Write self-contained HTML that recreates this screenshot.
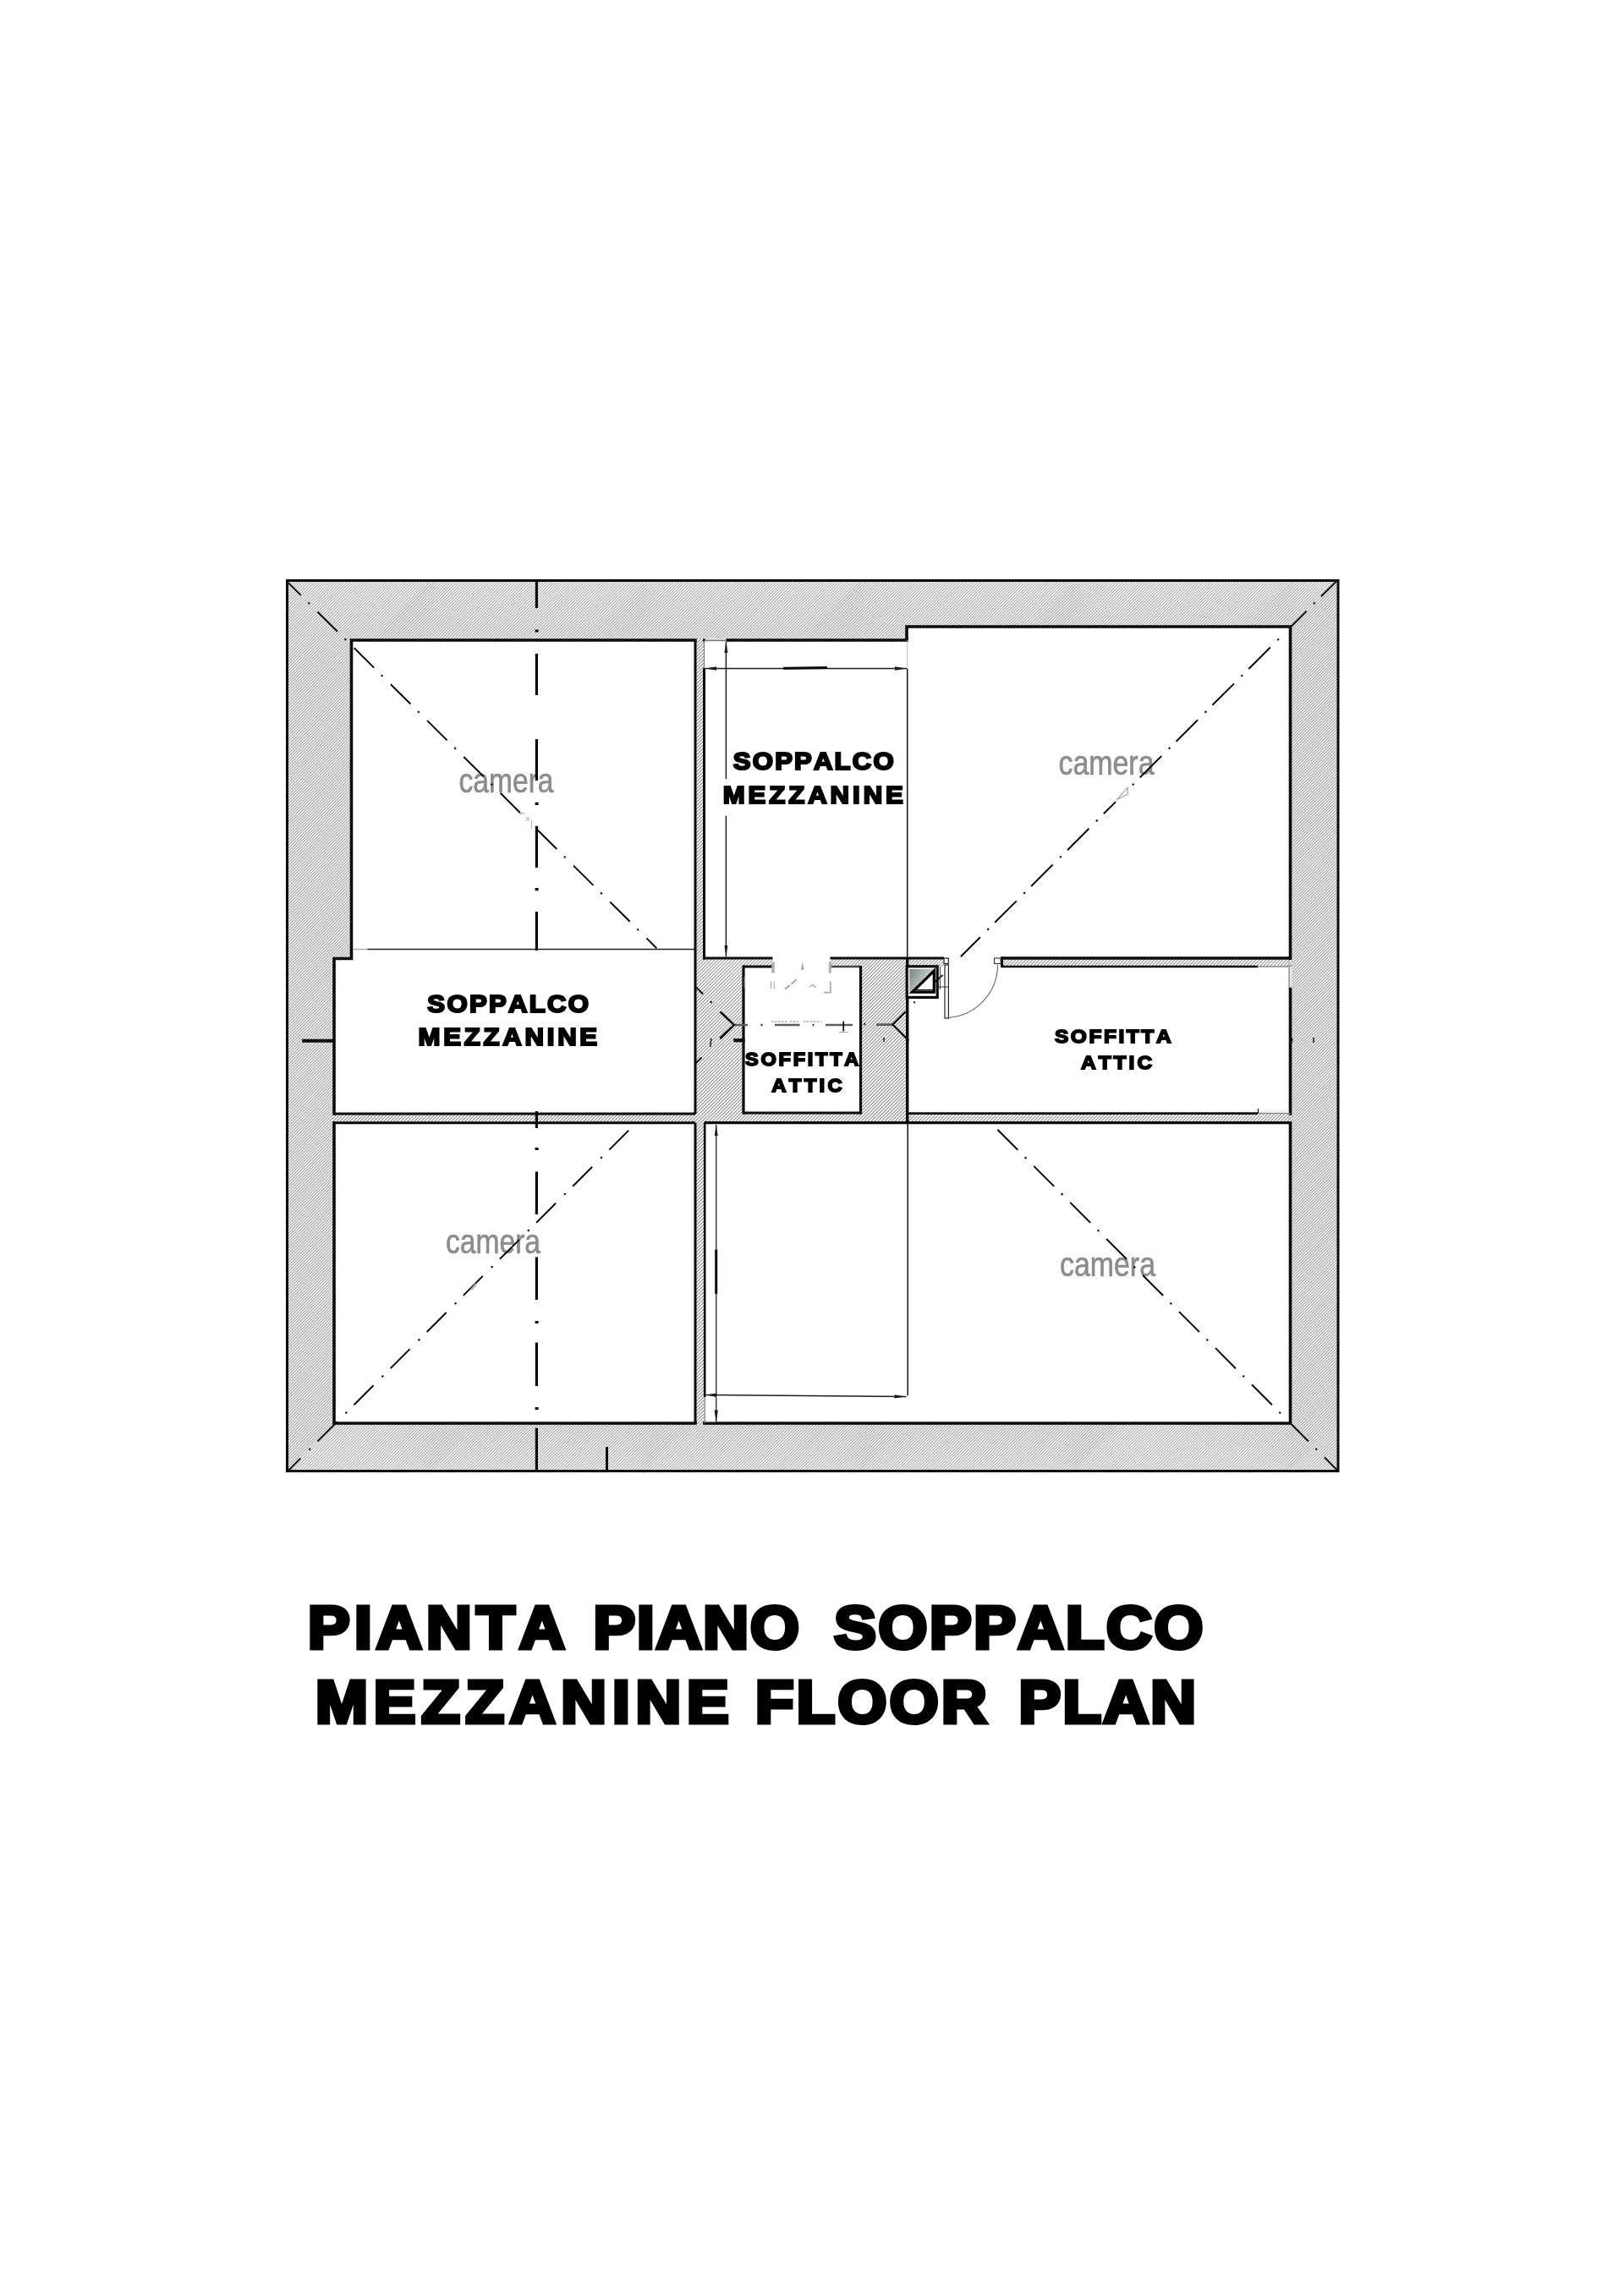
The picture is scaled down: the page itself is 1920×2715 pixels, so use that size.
<!DOCTYPE html>
<html><head><meta charset="utf-8"><title>Pianta piano soppalco</title>
<style>
html,body{margin:0;padding:0;background:#fff;}
body{width:1920px;height:2715px;overflow:hidden;font-family:"Liberation Sans",sans-serif;}
svg{display:block;}
text{font-family:"Liberation Sans",sans-serif;font-kerning:none;font-variant-ligatures:none;}
.blk{opacity:.999;font-weight:bold;fill:#000;stroke:#000;stroke-linejoin:miter;paint-order:stroke;}
.cam{opacity:.999;fill:#8c8c8c;stroke:#8c8c8c;stroke-width:0.7;}
</style></head><body>
<svg width="1920" height="2715" viewBox="0 0 1920 2715">
<defs>
<filter id="gs" x="-5%" y="-5%" width="110%" height="110%" color-interpolation-filters="sRGB"><feColorMatrix type="saturate" values="0"/></filter>
<linearGradient id="bx" x1="0" y1="0" x2="1" y2="0.6">
<stop offset="0" stop-color="#77827e"/><stop offset="0.6" stop-color="#b9c4c0"/><stop offset="1" stop-color="#d5dcd9"/>
</linearGradient>
</defs>
<rect width="1920" height="2715" fill="#fff"/>

<clipPath id="c1"><path d="M339.5 686.5h1242.5v1053.0h-1242.5zM415.5 757.0L1072.0 757.0L1072.0 741.0L1525.5 741.0L1525.5 1683.0L395.0 1683.0L395.0 1133.5L415.5 1133.5z" clip-rule="evenodd"/></clipPath>
<g clip-path="url(#c1)"><path d="M339.5 686.5h1242.5v1053.0h-1242.5zM415.5 757.0L1072.0 757.0L1072.0 741.0L1525.5 741.0L1525.5 1683.0L395.0 1683.0L395.0 1133.5L415.5 1133.5z" fill="#fbfbfb" fill-rule="evenodd"/>
<path d="M-710.50 1739.5l1053.0 -1053.0M-707.00 1739.5l1053.0 -1053.0M-703.50 1739.5l1053.0 -1053.0M-700.00 1739.5l1053.0 -1053.0M-696.50 1739.5l1053.0 -1053.0M-693.00 1739.5l1053.0 -1053.0M-689.50 1739.5l1053.0 -1053.0M-686.00 1739.5l1053.0 -1053.0M-682.50 1739.5l1053.0 -1053.0M-679.00 1739.5l1053.0 -1053.0M-675.50 1739.5l1053.0 -1053.0M-672.00 1739.5l1053.0 -1053.0M-668.50 1739.5l1053.0 -1053.0M-665.00 1739.5l1053.0 -1053.0M-661.50 1739.5l1053.0 -1053.0M-658.00 1739.5l1053.0 -1053.0M-654.50 1739.5l1053.0 -1053.0M-651.00 1739.5l1053.0 -1053.0M-647.50 1739.5l1053.0 -1053.0M-644.00 1739.5l1053.0 -1053.0M-640.50 1739.5l1053.0 -1053.0M-637.00 1739.5l1053.0 -1053.0M-633.50 1739.5l1053.0 -1053.0M-630.00 1739.5l1053.0 -1053.0M-626.50 1739.5l1053.0 -1053.0M-623.00 1739.5l1053.0 -1053.0M-619.50 1739.5l1053.0 -1053.0M-616.00 1739.5l1053.0 -1053.0M-612.50 1739.5l1053.0 -1053.0M-609.00 1739.5l1053.0 -1053.0M-605.50 1739.5l1053.0 -1053.0M-602.00 1739.5l1053.0 -1053.0M-598.50 1739.5l1053.0 -1053.0M-595.00 1739.5l1053.0 -1053.0M-591.50 1739.5l1053.0 -1053.0M-588.00 1739.5l1053.0 -1053.0M-584.50 1739.5l1053.0 -1053.0M-581.00 1739.5l1053.0 -1053.0M-577.50 1739.5l1053.0 -1053.0M-574.00 1739.5l1053.0 -1053.0M-570.50 1739.5l1053.0 -1053.0M-567.00 1739.5l1053.0 -1053.0M-563.50 1739.5l1053.0 -1053.0M-560.00 1739.5l1053.0 -1053.0M-556.50 1739.5l1053.0 -1053.0M-553.00 1739.5l1053.0 -1053.0M-549.50 1739.5l1053.0 -1053.0M-546.00 1739.5l1053.0 -1053.0M-542.50 1739.5l1053.0 -1053.0M-539.00 1739.5l1053.0 -1053.0M-535.50 1739.5l1053.0 -1053.0M-532.00 1739.5l1053.0 -1053.0M-528.50 1739.5l1053.0 -1053.0M-525.00 1739.5l1053.0 -1053.0M-521.50 1739.5l1053.0 -1053.0M-518.00 1739.5l1053.0 -1053.0M-514.50 1739.5l1053.0 -1053.0M-511.00 1739.5l1053.0 -1053.0M-507.50 1739.5l1053.0 -1053.0M-504.00 1739.5l1053.0 -1053.0M-500.50 1739.5l1053.0 -1053.0M-497.00 1739.5l1053.0 -1053.0M-493.50 1739.5l1053.0 -1053.0M-490.00 1739.5l1053.0 -1053.0M-486.50 1739.5l1053.0 -1053.0M-483.00 1739.5l1053.0 -1053.0M-479.50 1739.5l1053.0 -1053.0M-476.00 1739.5l1053.0 -1053.0M-472.50 1739.5l1053.0 -1053.0M-469.00 1739.5l1053.0 -1053.0M-465.50 1739.5l1053.0 -1053.0M-462.00 1739.5l1053.0 -1053.0M-458.50 1739.5l1053.0 -1053.0M-455.00 1739.5l1053.0 -1053.0M-451.50 1739.5l1053.0 -1053.0M-448.00 1739.5l1053.0 -1053.0M-444.50 1739.5l1053.0 -1053.0M-441.00 1739.5l1053.0 -1053.0M-437.50 1739.5l1053.0 -1053.0M-434.00 1739.5l1053.0 -1053.0M-430.50 1739.5l1053.0 -1053.0M-427.00 1739.5l1053.0 -1053.0M-423.50 1739.5l1053.0 -1053.0M-420.00 1739.5l1053.0 -1053.0M-416.50 1739.5l1053.0 -1053.0M-413.00 1739.5l1053.0 -1053.0M-409.50 1739.5l1053.0 -1053.0M-406.00 1739.5l1053.0 -1053.0M-402.50 1739.5l1053.0 -1053.0M-399.00 1739.5l1053.0 -1053.0M-395.50 1739.5l1053.0 -1053.0M-392.00 1739.5l1053.0 -1053.0M-388.50 1739.5l1053.0 -1053.0M-385.00 1739.5l1053.0 -1053.0M-381.50 1739.5l1053.0 -1053.0M-378.00 1739.5l1053.0 -1053.0M-374.50 1739.5l1053.0 -1053.0M-371.00 1739.5l1053.0 -1053.0M-367.50 1739.5l1053.0 -1053.0M-364.00 1739.5l1053.0 -1053.0M-360.50 1739.5l1053.0 -1053.0M-357.00 1739.5l1053.0 -1053.0M-353.50 1739.5l1053.0 -1053.0M-350.00 1739.5l1053.0 -1053.0M-346.50 1739.5l1053.0 -1053.0M-343.00 1739.5l1053.0 -1053.0M-339.50 1739.5l1053.0 -1053.0M-336.00 1739.5l1053.0 -1053.0M-332.50 1739.5l1053.0 -1053.0M-329.00 1739.5l1053.0 -1053.0M-325.50 1739.5l1053.0 -1053.0M-322.00 1739.5l1053.0 -1053.0M-318.50 1739.5l1053.0 -1053.0M-315.00 1739.5l1053.0 -1053.0M-311.50 1739.5l1053.0 -1053.0M-308.00 1739.5l1053.0 -1053.0M-304.50 1739.5l1053.0 -1053.0M-301.00 1739.5l1053.0 -1053.0M-297.50 1739.5l1053.0 -1053.0M-294.00 1739.5l1053.0 -1053.0M-290.50 1739.5l1053.0 -1053.0M-287.00 1739.5l1053.0 -1053.0M-283.50 1739.5l1053.0 -1053.0M-280.00 1739.5l1053.0 -1053.0M-276.50 1739.5l1053.0 -1053.0M-273.00 1739.5l1053.0 -1053.0M-269.50 1739.5l1053.0 -1053.0M-266.00 1739.5l1053.0 -1053.0M-262.50 1739.5l1053.0 -1053.0M-259.00 1739.5l1053.0 -1053.0M-255.50 1739.5l1053.0 -1053.0M-252.00 1739.5l1053.0 -1053.0M-248.50 1739.5l1053.0 -1053.0M-245.00 1739.5l1053.0 -1053.0M-241.50 1739.5l1053.0 -1053.0M-238.00 1739.5l1053.0 -1053.0M-234.50 1739.5l1053.0 -1053.0M-231.00 1739.5l1053.0 -1053.0M-227.50 1739.5l1053.0 -1053.0M-224.00 1739.5l1053.0 -1053.0M-220.50 1739.5l1053.0 -1053.0M-217.00 1739.5l1053.0 -1053.0M-213.50 1739.5l1053.0 -1053.0M-210.00 1739.5l1053.0 -1053.0M-206.50 1739.5l1053.0 -1053.0M-203.00 1739.5l1053.0 -1053.0M-199.50 1739.5l1053.0 -1053.0M-196.00 1739.5l1053.0 -1053.0M-192.50 1739.5l1053.0 -1053.0M-189.00 1739.5l1053.0 -1053.0M-185.50 1739.5l1053.0 -1053.0M-182.00 1739.5l1053.0 -1053.0M-178.50 1739.5l1053.0 -1053.0M-175.00 1739.5l1053.0 -1053.0M-171.50 1739.5l1053.0 -1053.0M-168.00 1739.5l1053.0 -1053.0M-164.50 1739.5l1053.0 -1053.0M-161.00 1739.5l1053.0 -1053.0M-157.50 1739.5l1053.0 -1053.0M-154.00 1739.5l1053.0 -1053.0M-150.50 1739.5l1053.0 -1053.0M-147.00 1739.5l1053.0 -1053.0M-143.50 1739.5l1053.0 -1053.0M-140.00 1739.5l1053.0 -1053.0M-136.50 1739.5l1053.0 -1053.0M-133.00 1739.5l1053.0 -1053.0M-129.50 1739.5l1053.0 -1053.0M-126.00 1739.5l1053.0 -1053.0M-122.50 1739.5l1053.0 -1053.0M-119.00 1739.5l1053.0 -1053.0M-115.50 1739.5l1053.0 -1053.0M-112.00 1739.5l1053.0 -1053.0M-108.50 1739.5l1053.0 -1053.0M-105.00 1739.5l1053.0 -1053.0M-101.50 1739.5l1053.0 -1053.0M-98.00 1739.5l1053.0 -1053.0M-94.50 1739.5l1053.0 -1053.0M-91.00 1739.5l1053.0 -1053.0M-87.50 1739.5l1053.0 -1053.0M-84.00 1739.5l1053.0 -1053.0M-80.50 1739.5l1053.0 -1053.0M-77.00 1739.5l1053.0 -1053.0M-73.50 1739.5l1053.0 -1053.0M-70.00 1739.5l1053.0 -1053.0M-66.50 1739.5l1053.0 -1053.0M-63.00 1739.5l1053.0 -1053.0M-59.50 1739.5l1053.0 -1053.0M-56.00 1739.5l1053.0 -1053.0M-52.50 1739.5l1053.0 -1053.0M-49.00 1739.5l1053.0 -1053.0M-45.50 1739.5l1053.0 -1053.0M-42.00 1739.5l1053.0 -1053.0M-38.50 1739.5l1053.0 -1053.0M-35.00 1739.5l1053.0 -1053.0M-31.50 1739.5l1053.0 -1053.0M-28.00 1739.5l1053.0 -1053.0M-24.50 1739.5l1053.0 -1053.0M-21.00 1739.5l1053.0 -1053.0M-17.50 1739.5l1053.0 -1053.0M-14.00 1739.5l1053.0 -1053.0M-10.50 1739.5l1053.0 -1053.0M-7.00 1739.5l1053.0 -1053.0M-3.50 1739.5l1053.0 -1053.0M0.00 1739.5l1053.0 -1053.0M3.50 1739.5l1053.0 -1053.0M7.00 1739.5l1053.0 -1053.0M10.50 1739.5l1053.0 -1053.0M14.00 1739.5l1053.0 -1053.0M17.50 1739.5l1053.0 -1053.0M21.00 1739.5l1053.0 -1053.0M24.50 1739.5l1053.0 -1053.0M28.00 1739.5l1053.0 -1053.0M31.50 1739.5l1053.0 -1053.0M35.00 1739.5l1053.0 -1053.0M38.50 1739.5l1053.0 -1053.0M42.00 1739.5l1053.0 -1053.0M45.50 1739.5l1053.0 -1053.0M49.00 1739.5l1053.0 -1053.0M52.50 1739.5l1053.0 -1053.0M56.00 1739.5l1053.0 -1053.0M59.50 1739.5l1053.0 -1053.0M63.00 1739.5l1053.0 -1053.0M66.50 1739.5l1053.0 -1053.0M70.00 1739.5l1053.0 -1053.0M73.50 1739.5l1053.0 -1053.0M77.00 1739.5l1053.0 -1053.0M80.50 1739.5l1053.0 -1053.0M84.00 1739.5l1053.0 -1053.0M87.50 1739.5l1053.0 -1053.0M91.00 1739.5l1053.0 -1053.0M94.50 1739.5l1053.0 -1053.0M98.00 1739.5l1053.0 -1053.0M101.50 1739.5l1053.0 -1053.0M105.00 1739.5l1053.0 -1053.0M108.50 1739.5l1053.0 -1053.0M112.00 1739.5l1053.0 -1053.0M115.50 1739.5l1053.0 -1053.0M119.00 1739.5l1053.0 -1053.0M122.50 1739.5l1053.0 -1053.0M126.00 1739.5l1053.0 -1053.0M129.50 1739.5l1053.0 -1053.0M133.00 1739.5l1053.0 -1053.0M136.50 1739.5l1053.0 -1053.0M140.00 1739.5l1053.0 -1053.0M143.50 1739.5l1053.0 -1053.0M147.00 1739.5l1053.0 -1053.0M150.50 1739.5l1053.0 -1053.0M154.00 1739.5l1053.0 -1053.0M157.50 1739.5l1053.0 -1053.0M161.00 1739.5l1053.0 -1053.0M164.50 1739.5l1053.0 -1053.0M168.00 1739.5l1053.0 -1053.0M171.50 1739.5l1053.0 -1053.0M175.00 1739.5l1053.0 -1053.0M178.50 1739.5l1053.0 -1053.0M182.00 1739.5l1053.0 -1053.0M185.50 1739.5l1053.0 -1053.0M189.00 1739.5l1053.0 -1053.0M192.50 1739.5l1053.0 -1053.0M196.00 1739.5l1053.0 -1053.0M199.50 1739.5l1053.0 -1053.0M203.00 1739.5l1053.0 -1053.0M206.50 1739.5l1053.0 -1053.0M210.00 1739.5l1053.0 -1053.0M213.50 1739.5l1053.0 -1053.0M217.00 1739.5l1053.0 -1053.0M220.50 1739.5l1053.0 -1053.0M224.00 1739.5l1053.0 -1053.0M227.50 1739.5l1053.0 -1053.0M231.00 1739.5l1053.0 -1053.0M234.50 1739.5l1053.0 -1053.0M238.00 1739.5l1053.0 -1053.0M241.50 1739.5l1053.0 -1053.0M245.00 1739.5l1053.0 -1053.0M248.50 1739.5l1053.0 -1053.0M252.00 1739.5l1053.0 -1053.0M255.50 1739.5l1053.0 -1053.0M259.00 1739.5l1053.0 -1053.0M262.50 1739.5l1053.0 -1053.0M266.00 1739.5l1053.0 -1053.0M269.50 1739.5l1053.0 -1053.0M273.00 1739.5l1053.0 -1053.0M276.50 1739.5l1053.0 -1053.0M280.00 1739.5l1053.0 -1053.0M283.50 1739.5l1053.0 -1053.0M287.00 1739.5l1053.0 -1053.0M290.50 1739.5l1053.0 -1053.0M294.00 1739.5l1053.0 -1053.0M297.50 1739.5l1053.0 -1053.0M301.00 1739.5l1053.0 -1053.0M304.50 1739.5l1053.0 -1053.0M308.00 1739.5l1053.0 -1053.0M311.50 1739.5l1053.0 -1053.0M315.00 1739.5l1053.0 -1053.0M318.50 1739.5l1053.0 -1053.0M322.00 1739.5l1053.0 -1053.0M325.50 1739.5l1053.0 -1053.0M329.00 1739.5l1053.0 -1053.0M332.50 1739.5l1053.0 -1053.0M336.00 1739.5l1053.0 -1053.0M339.50 1739.5l1053.0 -1053.0M343.00 1739.5l1053.0 -1053.0M346.50 1739.5l1053.0 -1053.0M350.00 1739.5l1053.0 -1053.0M353.50 1739.5l1053.0 -1053.0M357.00 1739.5l1053.0 -1053.0M360.50 1739.5l1053.0 -1053.0M364.00 1739.5l1053.0 -1053.0M367.50 1739.5l1053.0 -1053.0M371.00 1739.5l1053.0 -1053.0M374.50 1739.5l1053.0 -1053.0M378.00 1739.5l1053.0 -1053.0M381.50 1739.5l1053.0 -1053.0M385.00 1739.5l1053.0 -1053.0M388.50 1739.5l1053.0 -1053.0M392.00 1739.5l1053.0 -1053.0M395.50 1739.5l1053.0 -1053.0M399.00 1739.5l1053.0 -1053.0M402.50 1739.5l1053.0 -1053.0M406.00 1739.5l1053.0 -1053.0M409.50 1739.5l1053.0 -1053.0M413.00 1739.5l1053.0 -1053.0M416.50 1739.5l1053.0 -1053.0M420.00 1739.5l1053.0 -1053.0M423.50 1739.5l1053.0 -1053.0M427.00 1739.5l1053.0 -1053.0M430.50 1739.5l1053.0 -1053.0M434.00 1739.5l1053.0 -1053.0M437.50 1739.5l1053.0 -1053.0M441.00 1739.5l1053.0 -1053.0M444.50 1739.5l1053.0 -1053.0M448.00 1739.5l1053.0 -1053.0M451.50 1739.5l1053.0 -1053.0M455.00 1739.5l1053.0 -1053.0M458.50 1739.5l1053.0 -1053.0M462.00 1739.5l1053.0 -1053.0M465.50 1739.5l1053.0 -1053.0M469.00 1739.5l1053.0 -1053.0M472.50 1739.5l1053.0 -1053.0M476.00 1739.5l1053.0 -1053.0M479.50 1739.5l1053.0 -1053.0M483.00 1739.5l1053.0 -1053.0M486.50 1739.5l1053.0 -1053.0M490.00 1739.5l1053.0 -1053.0M493.50 1739.5l1053.0 -1053.0M497.00 1739.5l1053.0 -1053.0M500.50 1739.5l1053.0 -1053.0M504.00 1739.5l1053.0 -1053.0M507.50 1739.5l1053.0 -1053.0M511.00 1739.5l1053.0 -1053.0M514.50 1739.5l1053.0 -1053.0M518.00 1739.5l1053.0 -1053.0M521.50 1739.5l1053.0 -1053.0M525.00 1739.5l1053.0 -1053.0M528.50 1739.5l1053.0 -1053.0M532.00 1739.5l1053.0 -1053.0M535.50 1739.5l1053.0 -1053.0M539.00 1739.5l1053.0 -1053.0M542.50 1739.5l1053.0 -1053.0M546.00 1739.5l1053.0 -1053.0M549.50 1739.5l1053.0 -1053.0M553.00 1739.5l1053.0 -1053.0M556.50 1739.5l1053.0 -1053.0M560.00 1739.5l1053.0 -1053.0M563.50 1739.5l1053.0 -1053.0M567.00 1739.5l1053.0 -1053.0M570.50 1739.5l1053.0 -1053.0M574.00 1739.5l1053.0 -1053.0M577.50 1739.5l1053.0 -1053.0M581.00 1739.5l1053.0 -1053.0M584.50 1739.5l1053.0 -1053.0M588.00 1739.5l1053.0 -1053.0M591.50 1739.5l1053.0 -1053.0M595.00 1739.5l1053.0 -1053.0M598.50 1739.5l1053.0 -1053.0M602.00 1739.5l1053.0 -1053.0M605.50 1739.5l1053.0 -1053.0M609.00 1739.5l1053.0 -1053.0M612.50 1739.5l1053.0 -1053.0M616.00 1739.5l1053.0 -1053.0M619.50 1739.5l1053.0 -1053.0M623.00 1739.5l1053.0 -1053.0M626.50 1739.5l1053.0 -1053.0M630.00 1739.5l1053.0 -1053.0M633.50 1739.5l1053.0 -1053.0M637.00 1739.5l1053.0 -1053.0M640.50 1739.5l1053.0 -1053.0M644.00 1739.5l1053.0 -1053.0M647.50 1739.5l1053.0 -1053.0M651.00 1739.5l1053.0 -1053.0M654.50 1739.5l1053.0 -1053.0M658.00 1739.5l1053.0 -1053.0M661.50 1739.5l1053.0 -1053.0M665.00 1739.5l1053.0 -1053.0M668.50 1739.5l1053.0 -1053.0M672.00 1739.5l1053.0 -1053.0M675.50 1739.5l1053.0 -1053.0M679.00 1739.5l1053.0 -1053.0M682.50 1739.5l1053.0 -1053.0M686.00 1739.5l1053.0 -1053.0M689.50 1739.5l1053.0 -1053.0M693.00 1739.5l1053.0 -1053.0M696.50 1739.5l1053.0 -1053.0M700.00 1739.5l1053.0 -1053.0M703.50 1739.5l1053.0 -1053.0M707.00 1739.5l1053.0 -1053.0M710.50 1739.5l1053.0 -1053.0M714.00 1739.5l1053.0 -1053.0M717.50 1739.5l1053.0 -1053.0M721.00 1739.5l1053.0 -1053.0M724.50 1739.5l1053.0 -1053.0M728.00 1739.5l1053.0 -1053.0M731.50 1739.5l1053.0 -1053.0M735.00 1739.5l1053.0 -1053.0M738.50 1739.5l1053.0 -1053.0M742.00 1739.5l1053.0 -1053.0M745.50 1739.5l1053.0 -1053.0M749.00 1739.5l1053.0 -1053.0M752.50 1739.5l1053.0 -1053.0M756.00 1739.5l1053.0 -1053.0M759.50 1739.5l1053.0 -1053.0M763.00 1739.5l1053.0 -1053.0M766.50 1739.5l1053.0 -1053.0M770.00 1739.5l1053.0 -1053.0M773.50 1739.5l1053.0 -1053.0M777.00 1739.5l1053.0 -1053.0M780.50 1739.5l1053.0 -1053.0M784.00 1739.5l1053.0 -1053.0M787.50 1739.5l1053.0 -1053.0M791.00 1739.5l1053.0 -1053.0M794.50 1739.5l1053.0 -1053.0M798.00 1739.5l1053.0 -1053.0M801.50 1739.5l1053.0 -1053.0M805.00 1739.5l1053.0 -1053.0M808.50 1739.5l1053.0 -1053.0M812.00 1739.5l1053.0 -1053.0M815.50 1739.5l1053.0 -1053.0M819.00 1739.5l1053.0 -1053.0M822.50 1739.5l1053.0 -1053.0M826.00 1739.5l1053.0 -1053.0M829.50 1739.5l1053.0 -1053.0M833.00 1739.5l1053.0 -1053.0M836.50 1739.5l1053.0 -1053.0M840.00 1739.5l1053.0 -1053.0M843.50 1739.5l1053.0 -1053.0M847.00 1739.5l1053.0 -1053.0M850.50 1739.5l1053.0 -1053.0M854.00 1739.5l1053.0 -1053.0M857.50 1739.5l1053.0 -1053.0M861.00 1739.5l1053.0 -1053.0M864.50 1739.5l1053.0 -1053.0M868.00 1739.5l1053.0 -1053.0M871.50 1739.5l1053.0 -1053.0M875.00 1739.5l1053.0 -1053.0M878.50 1739.5l1053.0 -1053.0M882.00 1739.5l1053.0 -1053.0M885.50 1739.5l1053.0 -1053.0M889.00 1739.5l1053.0 -1053.0M892.50 1739.5l1053.0 -1053.0M896.00 1739.5l1053.0 -1053.0M899.50 1739.5l1053.0 -1053.0M903.00 1739.5l1053.0 -1053.0M906.50 1739.5l1053.0 -1053.0M910.00 1739.5l1053.0 -1053.0M913.50 1739.5l1053.0 -1053.0M917.00 1739.5l1053.0 -1053.0M920.50 1739.5l1053.0 -1053.0M924.00 1739.5l1053.0 -1053.0M927.50 1739.5l1053.0 -1053.0M931.00 1739.5l1053.0 -1053.0M934.50 1739.5l1053.0 -1053.0M938.00 1739.5l1053.0 -1053.0M941.50 1739.5l1053.0 -1053.0M945.00 1739.5l1053.0 -1053.0M948.50 1739.5l1053.0 -1053.0M952.00 1739.5l1053.0 -1053.0M955.50 1739.5l1053.0 -1053.0M959.00 1739.5l1053.0 -1053.0M962.50 1739.5l1053.0 -1053.0M966.00 1739.5l1053.0 -1053.0M969.50 1739.5l1053.0 -1053.0M973.00 1739.5l1053.0 -1053.0M976.50 1739.5l1053.0 -1053.0M980.00 1739.5l1053.0 -1053.0M983.50 1739.5l1053.0 -1053.0M987.00 1739.5l1053.0 -1053.0M990.50 1739.5l1053.0 -1053.0M994.00 1739.5l1053.0 -1053.0M997.50 1739.5l1053.0 -1053.0M1001.00 1739.5l1053.0 -1053.0M1004.50 1739.5l1053.0 -1053.0M1008.00 1739.5l1053.0 -1053.0M1011.50 1739.5l1053.0 -1053.0M1015.00 1739.5l1053.0 -1053.0M1018.50 1739.5l1053.0 -1053.0M1022.00 1739.5l1053.0 -1053.0M1025.50 1739.5l1053.0 -1053.0M1029.00 1739.5l1053.0 -1053.0M1032.50 1739.5l1053.0 -1053.0M1036.00 1739.5l1053.0 -1053.0M1039.50 1739.5l1053.0 -1053.0M1043.00 1739.5l1053.0 -1053.0M1046.50 1739.5l1053.0 -1053.0M1050.00 1739.5l1053.0 -1053.0M1053.50 1739.5l1053.0 -1053.0M1057.00 1739.5l1053.0 -1053.0M1060.50 1739.5l1053.0 -1053.0M1064.00 1739.5l1053.0 -1053.0M1067.50 1739.5l1053.0 -1053.0M1071.00 1739.5l1053.0 -1053.0M1074.50 1739.5l1053.0 -1053.0M1078.00 1739.5l1053.0 -1053.0M1081.50 1739.5l1053.0 -1053.0M1085.00 1739.5l1053.0 -1053.0M1088.50 1739.5l1053.0 -1053.0M1092.00 1739.5l1053.0 -1053.0M1095.50 1739.5l1053.0 -1053.0M1099.00 1739.5l1053.0 -1053.0M1102.50 1739.5l1053.0 -1053.0M1106.00 1739.5l1053.0 -1053.0M1109.50 1739.5l1053.0 -1053.0M1113.00 1739.5l1053.0 -1053.0M1116.50 1739.5l1053.0 -1053.0M1120.00 1739.5l1053.0 -1053.0M1123.50 1739.5l1053.0 -1053.0M1127.00 1739.5l1053.0 -1053.0M1130.50 1739.5l1053.0 -1053.0M1134.00 1739.5l1053.0 -1053.0M1137.50 1739.5l1053.0 -1053.0M1141.00 1739.5l1053.0 -1053.0M1144.50 1739.5l1053.0 -1053.0M1148.00 1739.5l1053.0 -1053.0M1151.50 1739.5l1053.0 -1053.0M1155.00 1739.5l1053.0 -1053.0M1158.50 1739.5l1053.0 -1053.0M1162.00 1739.5l1053.0 -1053.0M1165.50 1739.5l1053.0 -1053.0M1169.00 1739.5l1053.0 -1053.0M1172.50 1739.5l1053.0 -1053.0M1176.00 1739.5l1053.0 -1053.0M1179.50 1739.5l1053.0 -1053.0M1183.00 1739.5l1053.0 -1053.0M1186.50 1739.5l1053.0 -1053.0M1190.00 1739.5l1053.0 -1053.0M1193.50 1739.5l1053.0 -1053.0M1197.00 1739.5l1053.0 -1053.0M1200.50 1739.5l1053.0 -1053.0M1204.00 1739.5l1053.0 -1053.0M1207.50 1739.5l1053.0 -1053.0M1211.00 1739.5l1053.0 -1053.0M1214.50 1739.5l1053.0 -1053.0M1218.00 1739.5l1053.0 -1053.0M1221.50 1739.5l1053.0 -1053.0M1225.00 1739.5l1053.0 -1053.0M1228.50 1739.5l1053.0 -1053.0M1232.00 1739.5l1053.0 -1053.0M1235.50 1739.5l1053.0 -1053.0M1239.00 1739.5l1053.0 -1053.0M1242.50 1739.5l1053.0 -1053.0M1246.00 1739.5l1053.0 -1053.0M1249.50 1739.5l1053.0 -1053.0M1253.00 1739.5l1053.0 -1053.0M1256.50 1739.5l1053.0 -1053.0M1260.00 1739.5l1053.0 -1053.0M1263.50 1739.5l1053.0 -1053.0M1267.00 1739.5l1053.0 -1053.0M1270.50 1739.5l1053.0 -1053.0M1274.00 1739.5l1053.0 -1053.0M1277.50 1739.5l1053.0 -1053.0M1281.00 1739.5l1053.0 -1053.0M1284.50 1739.5l1053.0 -1053.0M1288.00 1739.5l1053.0 -1053.0M1291.50 1739.5l1053.0 -1053.0M1295.00 1739.5l1053.0 -1053.0M1298.50 1739.5l1053.0 -1053.0M1302.00 1739.5l1053.0 -1053.0M1305.50 1739.5l1053.0 -1053.0M1309.00 1739.5l1053.0 -1053.0M1312.50 1739.5l1053.0 -1053.0M1316.00 1739.5l1053.0 -1053.0M1319.50 1739.5l1053.0 -1053.0M1323.00 1739.5l1053.0 -1053.0M1326.50 1739.5l1053.0 -1053.0M1330.00 1739.5l1053.0 -1053.0M1333.50 1739.5l1053.0 -1053.0M1337.00 1739.5l1053.0 -1053.0M1340.50 1739.5l1053.0 -1053.0M1344.00 1739.5l1053.0 -1053.0M1347.50 1739.5l1053.0 -1053.0M1351.00 1739.5l1053.0 -1053.0M1354.50 1739.5l1053.0 -1053.0M1358.00 1739.5l1053.0 -1053.0M1361.50 1739.5l1053.0 -1053.0M1365.00 1739.5l1053.0 -1053.0M1368.50 1739.5l1053.0 -1053.0M1372.00 1739.5l1053.0 -1053.0M1375.50 1739.5l1053.0 -1053.0M1379.00 1739.5l1053.0 -1053.0M1382.50 1739.5l1053.0 -1053.0M1386.00 1739.5l1053.0 -1053.0M1389.50 1739.5l1053.0 -1053.0M1393.00 1739.5l1053.0 -1053.0M1396.50 1739.5l1053.0 -1053.0M1400.00 1739.5l1053.0 -1053.0M1403.50 1739.5l1053.0 -1053.0M1407.00 1739.5l1053.0 -1053.0M1410.50 1739.5l1053.0 -1053.0M1414.00 1739.5l1053.0 -1053.0M1417.50 1739.5l1053.0 -1053.0M1421.00 1739.5l1053.0 -1053.0M1424.50 1739.5l1053.0 -1053.0M1428.00 1739.5l1053.0 -1053.0M1431.50 1739.5l1053.0 -1053.0M1435.00 1739.5l1053.0 -1053.0M1438.50 1739.5l1053.0 -1053.0M1442.00 1739.5l1053.0 -1053.0M1445.50 1739.5l1053.0 -1053.0M1449.00 1739.5l1053.0 -1053.0M1452.50 1739.5l1053.0 -1053.0M1456.00 1739.5l1053.0 -1053.0M1459.50 1739.5l1053.0 -1053.0M1463.00 1739.5l1053.0 -1053.0M1466.50 1739.5l1053.0 -1053.0M1470.00 1739.5l1053.0 -1053.0M1473.50 1739.5l1053.0 -1053.0M1477.00 1739.5l1053.0 -1053.0M1480.50 1739.5l1053.0 -1053.0M1484.00 1739.5l1053.0 -1053.0M1487.50 1739.5l1053.0 -1053.0M1491.00 1739.5l1053.0 -1053.0M1494.50 1739.5l1053.0 -1053.0M1498.00 1739.5l1053.0 -1053.0M1501.50 1739.5l1053.0 -1053.0M1505.00 1739.5l1053.0 -1053.0M1508.50 1739.5l1053.0 -1053.0M1512.00 1739.5l1053.0 -1053.0M1515.50 1739.5l1053.0 -1053.0M1519.00 1739.5l1053.0 -1053.0M1522.50 1739.5l1053.0 -1053.0M1526.00 1739.5l1053.0 -1053.0M1529.50 1739.5l1053.0 -1053.0M1533.00 1739.5l1053.0 -1053.0M1536.50 1739.5l1053.0 -1053.0M1540.00 1739.5l1053.0 -1053.0M1543.50 1739.5l1053.0 -1053.0M1547.00 1739.5l1053.0 -1053.0M1550.50 1739.5l1053.0 -1053.0M1554.00 1739.5l1053.0 -1053.0M1557.50 1739.5l1053.0 -1053.0M1561.00 1739.5l1053.0 -1053.0M1564.50 1739.5l1053.0 -1053.0M1568.00 1739.5l1053.0 -1053.0M1571.50 1739.5l1053.0 -1053.0M1575.00 1739.5l1053.0 -1053.0M1578.50 1739.5l1053.0 -1053.0" stroke="#9c9c9c" stroke-width="1.05" fill="none"/></g>
<clipPath id="c2"><path d="M395.0 1317.0h427.0v10.7h-427.0zM822.0 757.0h10.5v376.0h-10.5zM822.0 1327.7h10.5v355.3h-10.5zM822.0 1133.0h250.7v194.7h-250.7zM1072.7 1133.0h43.1v10.0h-43.1zM1183.5 1133.0h342.0v10.0h-342.0zM1072.7 1317.0h452.8v10.7h-452.8z" clip-rule="evenodd"/></clipPath>
<g clip-path="url(#c2)"><path d="M395.0 1317.0h427.0v10.7h-427.0zM822.0 757.0h10.5v376.0h-10.5zM822.0 1327.7h10.5v355.3h-10.5zM822.0 1133.0h250.7v194.7h-250.7zM1072.7 1133.0h43.1v10.0h-43.1zM1183.5 1133.0h342.0v10.0h-342.0zM1072.7 1317.0h452.8v10.7h-452.8z" fill="#fdfdfd" fill-rule="evenodd"/>
<path d="M384.30 1327.7l10.7 -10.7M388.30 1327.7l10.7 -10.7M392.30 1327.7l10.7 -10.7M396.30 1327.7l10.7 -10.7M400.30 1327.7l10.7 -10.7M404.30 1327.7l10.7 -10.7M408.30 1327.7l10.7 -10.7M412.30 1327.7l10.7 -10.7M416.30 1327.7l10.7 -10.7M420.30 1327.7l10.7 -10.7M424.30 1327.7l10.7 -10.7M428.30 1327.7l10.7 -10.7M432.30 1327.7l10.7 -10.7M436.30 1327.7l10.7 -10.7M440.30 1327.7l10.7 -10.7M444.30 1327.7l10.7 -10.7M448.30 1327.7l10.7 -10.7M452.30 1327.7l10.7 -10.7M456.30 1327.7l10.7 -10.7M460.30 1327.7l10.7 -10.7M464.30 1327.7l10.7 -10.7M468.30 1327.7l10.7 -10.7M472.30 1327.7l10.7 -10.7M476.30 1327.7l10.7 -10.7M480.30 1327.7l10.7 -10.7M484.30 1327.7l10.7 -10.7M488.30 1327.7l10.7 -10.7M492.30 1327.7l10.7 -10.7M496.30 1327.7l10.7 -10.7M500.30 1327.7l10.7 -10.7M504.30 1327.7l10.7 -10.7M508.30 1327.7l10.7 -10.7M512.30 1327.7l10.7 -10.7M516.30 1327.7l10.7 -10.7M520.30 1327.7l10.7 -10.7M524.30 1327.7l10.7 -10.7M528.30 1327.7l10.7 -10.7M532.30 1327.7l10.7 -10.7M536.30 1327.7l10.7 -10.7M540.30 1327.7l10.7 -10.7M544.30 1327.7l10.7 -10.7M548.30 1327.7l10.7 -10.7M552.30 1327.7l10.7 -10.7M556.30 1327.7l10.7 -10.7M560.30 1327.7l10.7 -10.7M564.30 1327.7l10.7 -10.7M568.30 1327.7l10.7 -10.7M572.30 1327.7l10.7 -10.7M576.30 1327.7l10.7 -10.7M580.30 1327.7l10.7 -10.7M584.30 1327.7l10.7 -10.7M588.30 1327.7l10.7 -10.7M592.30 1327.7l10.7 -10.7M596.30 1327.7l10.7 -10.7M600.30 1327.7l10.7 -10.7M604.30 1327.7l10.7 -10.7M608.30 1327.7l10.7 -10.7M612.30 1327.7l10.7 -10.7M616.30 1327.7l10.7 -10.7M620.30 1327.7l10.7 -10.7M624.30 1327.7l10.7 -10.7M628.30 1327.7l10.7 -10.7M632.30 1327.7l10.7 -10.7M636.30 1327.7l10.7 -10.7M640.30 1327.7l10.7 -10.7M644.30 1327.7l10.7 -10.7M648.30 1327.7l10.7 -10.7M652.30 1327.7l10.7 -10.7M656.30 1327.7l10.7 -10.7M660.30 1327.7l10.7 -10.7M664.30 1327.7l10.7 -10.7M668.30 1327.7l10.7 -10.7M672.30 1327.7l10.7 -10.7M676.30 1327.7l10.7 -10.7M680.30 1327.7l10.7 -10.7M684.30 1327.7l10.7 -10.7M688.30 1327.7l10.7 -10.7M692.30 1327.7l10.7 -10.7M696.30 1327.7l10.7 -10.7M700.30 1327.7l10.7 -10.7M704.30 1327.7l10.7 -10.7M708.30 1327.7l10.7 -10.7M712.30 1327.7l10.7 -10.7M716.30 1327.7l10.7 -10.7M720.30 1327.7l10.7 -10.7M724.30 1327.7l10.7 -10.7M728.30 1327.7l10.7 -10.7M732.30 1327.7l10.7 -10.7M736.30 1327.7l10.7 -10.7M740.30 1327.7l10.7 -10.7M744.30 1327.7l10.7 -10.7M748.30 1327.7l10.7 -10.7M752.30 1327.7l10.7 -10.7M756.30 1327.7l10.7 -10.7M760.30 1327.7l10.7 -10.7M764.30 1327.7l10.7 -10.7M768.30 1327.7l10.7 -10.7M772.30 1327.7l10.7 -10.7M776.30 1327.7l10.7 -10.7M780.30 1327.7l10.7 -10.7M784.30 1327.7l10.7 -10.7M788.30 1327.7l10.7 -10.7M792.30 1327.7l10.7 -10.7M796.30 1327.7l10.7 -10.7M800.30 1327.7l10.7 -10.7M804.30 1327.7l10.7 -10.7M808.30 1327.7l10.7 -10.7M812.30 1327.7l10.7 -10.7M816.30 1327.7l10.7 -10.7M820.30 1327.7l10.7 -10.7M447.00 1133.0l376.0 -376.0M451.00 1133.0l376.0 -376.0M455.00 1133.0l376.0 -376.0M459.00 1133.0l376.0 -376.0M463.00 1133.0l376.0 -376.0M467.00 1133.0l376.0 -376.0M471.00 1133.0l376.0 -376.0M475.00 1133.0l376.0 -376.0M479.00 1133.0l376.0 -376.0M483.00 1133.0l376.0 -376.0M487.00 1133.0l376.0 -376.0M491.00 1133.0l376.0 -376.0M495.00 1133.0l376.0 -376.0M499.00 1133.0l376.0 -376.0M503.00 1133.0l376.0 -376.0M507.00 1133.0l376.0 -376.0M511.00 1133.0l376.0 -376.0M515.00 1133.0l376.0 -376.0M519.00 1133.0l376.0 -376.0M523.00 1133.0l376.0 -376.0M527.00 1133.0l376.0 -376.0M531.00 1133.0l376.0 -376.0M535.00 1133.0l376.0 -376.0M539.00 1133.0l376.0 -376.0M543.00 1133.0l376.0 -376.0M547.00 1133.0l376.0 -376.0M551.00 1133.0l376.0 -376.0M555.00 1133.0l376.0 -376.0M559.00 1133.0l376.0 -376.0M563.00 1133.0l376.0 -376.0M567.00 1133.0l376.0 -376.0M571.00 1133.0l376.0 -376.0M575.00 1133.0l376.0 -376.0M579.00 1133.0l376.0 -376.0M583.00 1133.0l376.0 -376.0M587.00 1133.0l376.0 -376.0M591.00 1133.0l376.0 -376.0M595.00 1133.0l376.0 -376.0M599.00 1133.0l376.0 -376.0M603.00 1133.0l376.0 -376.0M607.00 1133.0l376.0 -376.0M611.00 1133.0l376.0 -376.0M615.00 1133.0l376.0 -376.0M619.00 1133.0l376.0 -376.0M623.00 1133.0l376.0 -376.0M627.00 1133.0l376.0 -376.0M631.00 1133.0l376.0 -376.0M635.00 1133.0l376.0 -376.0M639.00 1133.0l376.0 -376.0M643.00 1133.0l376.0 -376.0M647.00 1133.0l376.0 -376.0M651.00 1133.0l376.0 -376.0M655.00 1133.0l376.0 -376.0M659.00 1133.0l376.0 -376.0M663.00 1133.0l376.0 -376.0M667.00 1133.0l376.0 -376.0M671.00 1133.0l376.0 -376.0M675.00 1133.0l376.0 -376.0M679.00 1133.0l376.0 -376.0M683.00 1133.0l376.0 -376.0M687.00 1133.0l376.0 -376.0M691.00 1133.0l376.0 -376.0M695.00 1133.0l376.0 -376.0M699.00 1133.0l376.0 -376.0M703.00 1133.0l376.0 -376.0M707.00 1133.0l376.0 -376.0M711.00 1133.0l376.0 -376.0M715.00 1133.0l376.0 -376.0M719.00 1133.0l376.0 -376.0M723.00 1133.0l376.0 -376.0M727.00 1133.0l376.0 -376.0M731.00 1133.0l376.0 -376.0M735.00 1133.0l376.0 -376.0M739.00 1133.0l376.0 -376.0M743.00 1133.0l376.0 -376.0M747.00 1133.0l376.0 -376.0M751.00 1133.0l376.0 -376.0M755.00 1133.0l376.0 -376.0M759.00 1133.0l376.0 -376.0M763.00 1133.0l376.0 -376.0M767.00 1133.0l376.0 -376.0M771.00 1133.0l376.0 -376.0M775.00 1133.0l376.0 -376.0M779.00 1133.0l376.0 -376.0M783.00 1133.0l376.0 -376.0M787.00 1133.0l376.0 -376.0M791.00 1133.0l376.0 -376.0M795.00 1133.0l376.0 -376.0M799.00 1133.0l376.0 -376.0M803.00 1133.0l376.0 -376.0M807.00 1133.0l376.0 -376.0M811.00 1133.0l376.0 -376.0M815.00 1133.0l376.0 -376.0M819.00 1133.0l376.0 -376.0M823.00 1133.0l376.0 -376.0M827.00 1133.0l376.0 -376.0M831.00 1133.0l376.0 -376.0M469.00 1683.0l355.3 -355.3M473.00 1683.0l355.3 -355.3M477.00 1683.0l355.3 -355.3M481.00 1683.0l355.3 -355.3M485.00 1683.0l355.3 -355.3M489.00 1683.0l355.3 -355.3M493.00 1683.0l355.3 -355.3M497.00 1683.0l355.3 -355.3M501.00 1683.0l355.3 -355.3M505.00 1683.0l355.3 -355.3M509.00 1683.0l355.3 -355.3M513.00 1683.0l355.3 -355.3M517.00 1683.0l355.3 -355.3M521.00 1683.0l355.3 -355.3M525.00 1683.0l355.3 -355.3M529.00 1683.0l355.3 -355.3M533.00 1683.0l355.3 -355.3M537.00 1683.0l355.3 -355.3M541.00 1683.0l355.3 -355.3M545.00 1683.0l355.3 -355.3M549.00 1683.0l355.3 -355.3M553.00 1683.0l355.3 -355.3M557.00 1683.0l355.3 -355.3M561.00 1683.0l355.3 -355.3M565.00 1683.0l355.3 -355.3M569.00 1683.0l355.3 -355.3M573.00 1683.0l355.3 -355.3M577.00 1683.0l355.3 -355.3M581.00 1683.0l355.3 -355.3M585.00 1683.0l355.3 -355.3M589.00 1683.0l355.3 -355.3M593.00 1683.0l355.3 -355.3M597.00 1683.0l355.3 -355.3M601.00 1683.0l355.3 -355.3M605.00 1683.0l355.3 -355.3M609.00 1683.0l355.3 -355.3M613.00 1683.0l355.3 -355.3M617.00 1683.0l355.3 -355.3M621.00 1683.0l355.3 -355.3M625.00 1683.0l355.3 -355.3M629.00 1683.0l355.3 -355.3M633.00 1683.0l355.3 -355.3M637.00 1683.0l355.3 -355.3M641.00 1683.0l355.3 -355.3M645.00 1683.0l355.3 -355.3M649.00 1683.0l355.3 -355.3M653.00 1683.0l355.3 -355.3M657.00 1683.0l355.3 -355.3M661.00 1683.0l355.3 -355.3M665.00 1683.0l355.3 -355.3M669.00 1683.0l355.3 -355.3M673.00 1683.0l355.3 -355.3M677.00 1683.0l355.3 -355.3M681.00 1683.0l355.3 -355.3M685.00 1683.0l355.3 -355.3M689.00 1683.0l355.3 -355.3M693.00 1683.0l355.3 -355.3M697.00 1683.0l355.3 -355.3M701.00 1683.0l355.3 -355.3M705.00 1683.0l355.3 -355.3M709.00 1683.0l355.3 -355.3M713.00 1683.0l355.3 -355.3M717.00 1683.0l355.3 -355.3M721.00 1683.0l355.3 -355.3M725.00 1683.0l355.3 -355.3M729.00 1683.0l355.3 -355.3M733.00 1683.0l355.3 -355.3M737.00 1683.0l355.3 -355.3M741.00 1683.0l355.3 -355.3M745.00 1683.0l355.3 -355.3M749.00 1683.0l355.3 -355.3M753.00 1683.0l355.3 -355.3M757.00 1683.0l355.3 -355.3M761.00 1683.0l355.3 -355.3M765.00 1683.0l355.3 -355.3M769.00 1683.0l355.3 -355.3M773.00 1683.0l355.3 -355.3M777.00 1683.0l355.3 -355.3M781.00 1683.0l355.3 -355.3M785.00 1683.0l355.3 -355.3M789.00 1683.0l355.3 -355.3M793.00 1683.0l355.3 -355.3M797.00 1683.0l355.3 -355.3M801.00 1683.0l355.3 -355.3M805.00 1683.0l355.3 -355.3M809.00 1683.0l355.3 -355.3M813.00 1683.0l355.3 -355.3M817.00 1683.0l355.3 -355.3M821.00 1683.0l355.3 -355.3M825.00 1683.0l355.3 -355.3M829.00 1683.0l355.3 -355.3M628.30 1327.7l194.7 -194.7M632.30 1327.7l194.7 -194.7M636.30 1327.7l194.7 -194.7M640.30 1327.7l194.7 -194.7M644.30 1327.7l194.7 -194.7M648.30 1327.7l194.7 -194.7M652.30 1327.7l194.7 -194.7M656.30 1327.7l194.7 -194.7M660.30 1327.7l194.7 -194.7M664.30 1327.7l194.7 -194.7M668.30 1327.7l194.7 -194.7M672.30 1327.7l194.7 -194.7M676.30 1327.7l194.7 -194.7M680.30 1327.7l194.7 -194.7M684.30 1327.7l194.7 -194.7M688.30 1327.7l194.7 -194.7M692.30 1327.7l194.7 -194.7M696.30 1327.7l194.7 -194.7M700.30 1327.7l194.7 -194.7M704.30 1327.7l194.7 -194.7M708.30 1327.7l194.7 -194.7M712.30 1327.7l194.7 -194.7M716.30 1327.7l194.7 -194.7M720.30 1327.7l194.7 -194.7M724.30 1327.7l194.7 -194.7M728.30 1327.7l194.7 -194.7M732.30 1327.7l194.7 -194.7M736.30 1327.7l194.7 -194.7M740.30 1327.7l194.7 -194.7M744.30 1327.7l194.7 -194.7M748.30 1327.7l194.7 -194.7M752.30 1327.7l194.7 -194.7M756.30 1327.7l194.7 -194.7M760.30 1327.7l194.7 -194.7M764.30 1327.7l194.7 -194.7M768.30 1327.7l194.7 -194.7M772.30 1327.7l194.7 -194.7M776.30 1327.7l194.7 -194.7M780.30 1327.7l194.7 -194.7M784.30 1327.7l194.7 -194.7M788.30 1327.7l194.7 -194.7M792.30 1327.7l194.7 -194.7M796.30 1327.7l194.7 -194.7M800.30 1327.7l194.7 -194.7M804.30 1327.7l194.7 -194.7M808.30 1327.7l194.7 -194.7M812.30 1327.7l194.7 -194.7M816.30 1327.7l194.7 -194.7M820.30 1327.7l194.7 -194.7M824.30 1327.7l194.7 -194.7M828.30 1327.7l194.7 -194.7M832.30 1327.7l194.7 -194.7M836.30 1327.7l194.7 -194.7M840.30 1327.7l194.7 -194.7M844.30 1327.7l194.7 -194.7M848.30 1327.7l194.7 -194.7M852.30 1327.7l194.7 -194.7M856.30 1327.7l194.7 -194.7M860.30 1327.7l194.7 -194.7M864.30 1327.7l194.7 -194.7M868.30 1327.7l194.7 -194.7M872.30 1327.7l194.7 -194.7M876.30 1327.7l194.7 -194.7M880.30 1327.7l194.7 -194.7M884.30 1327.7l194.7 -194.7M888.30 1327.7l194.7 -194.7M892.30 1327.7l194.7 -194.7M896.30 1327.7l194.7 -194.7M900.30 1327.7l194.7 -194.7M904.30 1327.7l194.7 -194.7M908.30 1327.7l194.7 -194.7M912.30 1327.7l194.7 -194.7M916.30 1327.7l194.7 -194.7M920.30 1327.7l194.7 -194.7M924.30 1327.7l194.7 -194.7M928.30 1327.7l194.7 -194.7M932.30 1327.7l194.7 -194.7M936.30 1327.7l194.7 -194.7M940.30 1327.7l194.7 -194.7M944.30 1327.7l194.7 -194.7M948.30 1327.7l194.7 -194.7M952.30 1327.7l194.7 -194.7M956.30 1327.7l194.7 -194.7M960.30 1327.7l194.7 -194.7M964.30 1327.7l194.7 -194.7M968.30 1327.7l194.7 -194.7M972.30 1327.7l194.7 -194.7M976.30 1327.7l194.7 -194.7M980.30 1327.7l194.7 -194.7M984.30 1327.7l194.7 -194.7M988.30 1327.7l194.7 -194.7M992.30 1327.7l194.7 -194.7M996.30 1327.7l194.7 -194.7M1000.30 1327.7l194.7 -194.7M1004.30 1327.7l194.7 -194.7M1008.30 1327.7l194.7 -194.7M1012.30 1327.7l194.7 -194.7M1016.30 1327.7l194.7 -194.7M1020.30 1327.7l194.7 -194.7M1024.30 1327.7l194.7 -194.7M1028.30 1327.7l194.7 -194.7M1032.30 1327.7l194.7 -194.7M1036.30 1327.7l194.7 -194.7M1040.30 1327.7l194.7 -194.7M1044.30 1327.7l194.7 -194.7M1048.30 1327.7l194.7 -194.7M1052.30 1327.7l194.7 -194.7M1056.30 1327.7l194.7 -194.7M1060.30 1327.7l194.7 -194.7M1064.30 1327.7l194.7 -194.7M1068.30 1327.7l194.7 -194.7M1072.30 1327.7l194.7 -194.7M1065.00 1143.0l10.0 -10.0M1069.00 1143.0l10.0 -10.0M1073.00 1143.0l10.0 -10.0M1077.00 1143.0l10.0 -10.0M1081.00 1143.0l10.0 -10.0M1085.00 1143.0l10.0 -10.0M1089.00 1143.0l10.0 -10.0M1093.00 1143.0l10.0 -10.0M1097.00 1143.0l10.0 -10.0M1101.00 1143.0l10.0 -10.0M1105.00 1143.0l10.0 -10.0M1109.00 1143.0l10.0 -10.0M1113.00 1143.0l10.0 -10.0M1177.00 1143.0l10.0 -10.0M1181.00 1143.0l10.0 -10.0M1185.00 1143.0l10.0 -10.0M1189.00 1143.0l10.0 -10.0M1193.00 1143.0l10.0 -10.0M1197.00 1143.0l10.0 -10.0M1201.00 1143.0l10.0 -10.0M1205.00 1143.0l10.0 -10.0M1209.00 1143.0l10.0 -10.0M1213.00 1143.0l10.0 -10.0M1217.00 1143.0l10.0 -10.0M1221.00 1143.0l10.0 -10.0M1225.00 1143.0l10.0 -10.0M1229.00 1143.0l10.0 -10.0M1233.00 1143.0l10.0 -10.0M1237.00 1143.0l10.0 -10.0M1241.00 1143.0l10.0 -10.0M1245.00 1143.0l10.0 -10.0M1249.00 1143.0l10.0 -10.0M1253.00 1143.0l10.0 -10.0M1257.00 1143.0l10.0 -10.0M1261.00 1143.0l10.0 -10.0M1265.00 1143.0l10.0 -10.0M1269.00 1143.0l10.0 -10.0M1273.00 1143.0l10.0 -10.0M1277.00 1143.0l10.0 -10.0M1281.00 1143.0l10.0 -10.0M1285.00 1143.0l10.0 -10.0M1289.00 1143.0l10.0 -10.0M1293.00 1143.0l10.0 -10.0M1297.00 1143.0l10.0 -10.0M1301.00 1143.0l10.0 -10.0M1305.00 1143.0l10.0 -10.0M1309.00 1143.0l10.0 -10.0M1313.00 1143.0l10.0 -10.0M1317.00 1143.0l10.0 -10.0M1321.00 1143.0l10.0 -10.0M1325.00 1143.0l10.0 -10.0M1329.00 1143.0l10.0 -10.0M1333.00 1143.0l10.0 -10.0M1337.00 1143.0l10.0 -10.0M1341.00 1143.0l10.0 -10.0M1345.00 1143.0l10.0 -10.0M1349.00 1143.0l10.0 -10.0M1353.00 1143.0l10.0 -10.0M1357.00 1143.0l10.0 -10.0M1361.00 1143.0l10.0 -10.0M1365.00 1143.0l10.0 -10.0M1369.00 1143.0l10.0 -10.0M1373.00 1143.0l10.0 -10.0M1377.00 1143.0l10.0 -10.0M1381.00 1143.0l10.0 -10.0M1385.00 1143.0l10.0 -10.0M1389.00 1143.0l10.0 -10.0M1393.00 1143.0l10.0 -10.0M1397.00 1143.0l10.0 -10.0M1401.00 1143.0l10.0 -10.0M1405.00 1143.0l10.0 -10.0M1409.00 1143.0l10.0 -10.0M1413.00 1143.0l10.0 -10.0M1417.00 1143.0l10.0 -10.0M1421.00 1143.0l10.0 -10.0M1425.00 1143.0l10.0 -10.0M1429.00 1143.0l10.0 -10.0M1433.00 1143.0l10.0 -10.0M1437.00 1143.0l10.0 -10.0M1441.00 1143.0l10.0 -10.0M1445.00 1143.0l10.0 -10.0M1449.00 1143.0l10.0 -10.0M1453.00 1143.0l10.0 -10.0M1457.00 1143.0l10.0 -10.0M1461.00 1143.0l10.0 -10.0M1465.00 1143.0l10.0 -10.0M1469.00 1143.0l10.0 -10.0M1473.00 1143.0l10.0 -10.0M1477.00 1143.0l10.0 -10.0M1481.00 1143.0l10.0 -10.0M1485.00 1143.0l10.0 -10.0M1489.00 1143.0l10.0 -10.0M1493.00 1143.0l10.0 -10.0M1497.00 1143.0l10.0 -10.0M1501.00 1143.0l10.0 -10.0M1505.00 1143.0l10.0 -10.0M1509.00 1143.0l10.0 -10.0M1513.00 1143.0l10.0 -10.0M1517.00 1143.0l10.0 -10.0M1521.00 1143.0l10.0 -10.0M1525.00 1143.0l10.0 -10.0M1064.30 1327.7l10.7 -10.7M1068.30 1327.7l10.7 -10.7M1072.30 1327.7l10.7 -10.7M1076.30 1327.7l10.7 -10.7M1080.30 1327.7l10.7 -10.7M1084.30 1327.7l10.7 -10.7M1088.30 1327.7l10.7 -10.7M1092.30 1327.7l10.7 -10.7M1096.30 1327.7l10.7 -10.7M1100.30 1327.7l10.7 -10.7M1104.30 1327.7l10.7 -10.7M1108.30 1327.7l10.7 -10.7M1112.30 1327.7l10.7 -10.7M1116.30 1327.7l10.7 -10.7M1120.30 1327.7l10.7 -10.7M1124.30 1327.7l10.7 -10.7M1128.30 1327.7l10.7 -10.7M1132.30 1327.7l10.7 -10.7M1136.30 1327.7l10.7 -10.7M1140.30 1327.7l10.7 -10.7M1144.30 1327.7l10.7 -10.7M1148.30 1327.7l10.7 -10.7M1152.30 1327.7l10.7 -10.7M1156.30 1327.7l10.7 -10.7M1160.30 1327.7l10.7 -10.7M1164.30 1327.7l10.7 -10.7M1168.30 1327.7l10.7 -10.7M1172.30 1327.7l10.7 -10.7M1176.30 1327.7l10.7 -10.7M1180.30 1327.7l10.7 -10.7M1184.30 1327.7l10.7 -10.7M1188.30 1327.7l10.7 -10.7M1192.30 1327.7l10.7 -10.7M1196.30 1327.7l10.7 -10.7M1200.30 1327.7l10.7 -10.7M1204.30 1327.7l10.7 -10.7M1208.30 1327.7l10.7 -10.7M1212.30 1327.7l10.7 -10.7M1216.30 1327.7l10.7 -10.7M1220.30 1327.7l10.7 -10.7M1224.30 1327.7l10.7 -10.7M1228.30 1327.7l10.7 -10.7M1232.30 1327.7l10.7 -10.7M1236.30 1327.7l10.7 -10.7M1240.30 1327.7l10.7 -10.7M1244.30 1327.7l10.7 -10.7M1248.30 1327.7l10.7 -10.7M1252.30 1327.7l10.7 -10.7M1256.30 1327.7l10.7 -10.7M1260.30 1327.7l10.7 -10.7M1264.30 1327.7l10.7 -10.7M1268.30 1327.7l10.7 -10.7M1272.30 1327.7l10.7 -10.7M1276.30 1327.7l10.7 -10.7M1280.30 1327.7l10.7 -10.7M1284.30 1327.7l10.7 -10.7M1288.30 1327.7l10.7 -10.7M1292.30 1327.7l10.7 -10.7M1296.30 1327.7l10.7 -10.7M1300.30 1327.7l10.7 -10.7M1304.30 1327.7l10.7 -10.7M1308.30 1327.7l10.7 -10.7M1312.30 1327.7l10.7 -10.7M1316.30 1327.7l10.7 -10.7M1320.30 1327.7l10.7 -10.7M1324.30 1327.7l10.7 -10.7M1328.30 1327.7l10.7 -10.7M1332.30 1327.7l10.7 -10.7M1336.30 1327.7l10.7 -10.7M1340.30 1327.7l10.7 -10.7M1344.30 1327.7l10.7 -10.7M1348.30 1327.7l10.7 -10.7M1352.30 1327.7l10.7 -10.7M1356.30 1327.7l10.7 -10.7M1360.30 1327.7l10.7 -10.7M1364.30 1327.7l10.7 -10.7M1368.30 1327.7l10.7 -10.7M1372.30 1327.7l10.7 -10.7M1376.30 1327.7l10.7 -10.7M1380.30 1327.7l10.7 -10.7M1384.30 1327.7l10.7 -10.7M1388.30 1327.7l10.7 -10.7M1392.30 1327.7l10.7 -10.7M1396.30 1327.7l10.7 -10.7M1400.30 1327.7l10.7 -10.7M1404.30 1327.7l10.7 -10.7M1408.30 1327.7l10.7 -10.7M1412.30 1327.7l10.7 -10.7M1416.30 1327.7l10.7 -10.7M1420.30 1327.7l10.7 -10.7M1424.30 1327.7l10.7 -10.7M1428.30 1327.7l10.7 -10.7M1432.30 1327.7l10.7 -10.7M1436.30 1327.7l10.7 -10.7M1440.30 1327.7l10.7 -10.7M1444.30 1327.7l10.7 -10.7M1448.30 1327.7l10.7 -10.7M1452.30 1327.7l10.7 -10.7M1456.30 1327.7l10.7 -10.7M1460.30 1327.7l10.7 -10.7M1464.30 1327.7l10.7 -10.7M1468.30 1327.7l10.7 -10.7M1472.30 1327.7l10.7 -10.7M1476.30 1327.7l10.7 -10.7M1480.30 1327.7l10.7 -10.7M1484.30 1327.7l10.7 -10.7M1488.30 1327.7l10.7 -10.7M1492.30 1327.7l10.7 -10.7M1496.30 1327.7l10.7 -10.7M1500.30 1327.7l10.7 -10.7M1504.30 1327.7l10.7 -10.7M1508.30 1327.7l10.7 -10.7M1512.30 1327.7l10.7 -10.7M1516.30 1327.7l10.7 -10.7M1520.30 1327.7l10.7 -10.7M1524.30 1327.7l10.7 -10.7" stroke="#8a8a8a" stroke-width="1.05" fill="none"/></g>
<rect x="879.0" y="1143.0" width="138.5" height="173.0" fill="#fff" />
<rect x="913.4" y="1131.0" width="68.1" height="14.0" fill="#fff" />
<g filter="url(#gs)">
<text class="cam" x="542.5" y="936.5" font-size="40.5" textLength="112.0" lengthAdjust="spacingAndGlyphs">camera</text>
<text class="cam" x="1251.5" y="915.5" font-size="40.5" textLength="113.0" lengthAdjust="spacingAndGlyphs">camera</text>
<text class="cam" x="527.0" y="1481.7" font-size="40.5" textLength="112.0" lengthAdjust="spacingAndGlyphs">camera</text>
<text class="cam" x="1253.0" y="1508.6" font-size="40.5" textLength="113.0" lengthAdjust="spacingAndGlyphs">camera</text>
</g>
<path d="M338.3 686.6L355.7 703.9M375.4 723.5L398.9 746.8M364.4 712.4L366.1 714.1M418.7 766.3L442.2 789.6M407.6 755.3L409.3 757.0M461.9 809.2L485.4 832.5M450.8 798.2L452.5 799.9M505.1 852.1L528.6 875.4M494.0 841.1L495.7 842.8M548.3 895.0L571.8 918.3M537.2 884.0L538.9 885.7M591.6 937.8L615.0 961.2M580.5 926.8L582.2 928.5M634.8 980.7L658.3 1004.0M678.0 1023.6L701.5 1046.9M666.9 1012.6L668.6 1014.3M721.2 1066.5L744.7 1089.8M710.1 1055.5L711.8 1057.2M764.4 1109.4L776.3 1121.2M753.3 1098.4L755.0 1100.0M822.9 1167.4L831.2 1175.5M853.3 1197.6L867.9 1212.0M839.8 1184.1L841.5 1185.8" stroke="#0a0a0a" stroke-width="2.0" fill="none"/>
<path d="M339.7 1740.0L355.3 1724.4M375.4 1704.3L398.4 1681.3M365.3 1714.5L367.0 1712.8M418.5 1661.2L441.5 1638.2M408.4 1671.4L410.1 1669.7M461.6 1618.1L484.6 1595.1M451.5 1628.3L453.2 1626.6M504.7 1575.0L527.7 1552.0M494.6 1585.2L496.3 1583.5M547.8 1531.9L570.8 1508.9M537.7 1542.1L539.4 1540.4M590.9 1488.8L614.0 1465.9M580.8 1499.0L582.5 1497.3M634.1 1445.8L657.1 1422.8M623.9 1455.9L625.6 1454.2M677.2 1402.7L700.2 1379.7M667.0 1412.8L668.7 1411.1M720.3 1359.6L743.3 1336.6M710.1 1369.7L711.8 1368.0M821.1 1258.8L829.5 1250.4M851.4 1228.5L867.9 1212.0" stroke="#0a0a0a" stroke-width="2.0" fill="none"/>
<path d="M1581.2 686.2L1562.0 705.3M1544.7 722.7L1525.6 741.8M1554.8 712.5L1553.1 714.2M1501.8 765.5L1476.3 791.0M1512.0 755.4L1510.3 757.1M1459.0 808.4L1433.4 833.8M1469.1 798.2L1467.4 799.9M1416.1 851.2L1390.6 876.7M1426.2 841.0L1424.5 842.7M1373.2 894.0L1347.7 919.5M1383.4 883.9L1381.7 885.6M1319.1 948.1L1304.8 962.3M1340.5 926.7L1338.8 928.4M1287.5 979.7L1262.0 1005.2M1297.6 969.5L1295.9 971.2M1244.6 1022.5L1219.1 1048.0M1254.8 1012.4L1253.1 1014.1M1201.8 1065.4L1176.2 1090.8M1211.9 1055.2L1210.2 1056.9M1158.9 1108.2L1135.8 1131.2M1169.0 1098.0L1167.3 1099.7M1070.8 1196.2L1055.4 1211.6" stroke="#0a0a0a" stroke-width="2.0" fill="none"/>
<path d="M1582.4 1739.9L1565.8 1723.3M1546.8 1704.3L1526.9 1684.2M1557.0 1714.4L1555.3 1712.7M1503.9 1661.2L1479.9 1637.2M1514.0 1671.4L1512.3 1669.7M1460.9 1618.2L1437.0 1594.1M1471.1 1628.3L1469.4 1626.6M1418.0 1575.1L1394.0 1551.1M1428.1 1585.3L1426.4 1583.6M1375.1 1532.0L1351.1 1508.0M1385.2 1542.2L1383.5 1540.5M1332.1 1489.0L1308.1 1465.0M1342.2 1499.2L1340.5 1497.5M1289.2 1445.9L1265.2 1421.9M1299.3 1456.1L1297.6 1454.4M1246.2 1402.9L1222.2 1378.9M1256.4 1413.0L1254.7 1411.3M1203.3 1359.8L1179.3 1335.8M1213.4 1370.0L1211.7 1368.3M1071.6 1227.9L1055.4 1211.6" stroke="#0a0a0a" stroke-width="2.0" fill="none"/>
<path d="M1319.5 946.5L1333 931.5L1333.5 939L1322 945" fill="none" stroke="#9a9a9a" stroke-width="1.1"/>
<path d="M614.5 963.5l3-2.5l2.5 2M622 966l4 5M626 966l-4 5M628.5 970v10" fill="none" stroke="#b5b5b5" stroke-width="1.1"/>
<path d="M557 1525l6-7" fill="none" stroke="#a8a8a8" stroke-width="2.6"/>
<path d="M634.4 686.6V719M634.4 773V822M634.4 874V923M634.4 976.7V1026M634.4 1078V1124M634.4 1314V1334M634.4 1385.6V1436M634.4 1486.6V1537M634.4 1587.4V1639M634.4 1688.4V1739M632.6 746h4M632.6 950.3h4M632.6 1051.6h4M632.6 1358.5h4M632.6 1563.5h4M632.6 1665.5h4" stroke="#0a0a0a" stroke-width="3.2" fill="none"/>
<line x1="717.5" y1="1711.0" x2="717.5" y2="1741.0" stroke="#0a0a0a" stroke-width="3" />
<line x1="357.2" y1="1230.8" x2="396.0" y2="1230.8" stroke="#0a0a0a" stroke-width="4.0" />
<rect x="339.5" y="686.5" width="1242.5" height="1053.0" fill="none" stroke="#0a0a0a" stroke-width="3"/>
<polygon points="415.5,757.0 1072.0,757.0 1072.0,741.0 1525.5,741.0 1525.5,1683.0 395.0,1683.0 395.0,1133.5 415.5,1133.5" fill="none" stroke="#0a0a0a" stroke-width="3.6" stroke-linejoin="miter"/>
<clipPath id="c3"><path d="M823.6 1680.8h7.6v4.6h-7.6zM823.6 754.8h7.6v4.6h-7.6zM1523.3 1134.8h4.6v7.0h-4.6zM1523.3 1318.4h4.6v7.7h-4.6zM392.8 1318.6h4.6v7.5h-4.6z" clip-rule="evenodd"/></clipPath>
<g clip-path="url(#c3)"><path d="M823.6 1680.8h7.6v4.6h-7.6zM823.6 754.8h7.6v4.6h-7.6zM1523.3 1134.8h4.6v7.0h-4.6zM1523.3 1318.4h4.6v7.7h-4.6zM392.8 1318.6h4.6v7.5h-4.6z" fill="#fdfdfd" fill-rule="evenodd"/>
<path d="M822.60 1685.4l4.6 -4.6M826.60 1685.4l4.6 -4.6M830.60 1685.4l4.6 -4.6M820.60 759.4l4.6 -4.6M824.60 759.4l4.6 -4.6M828.60 759.4l4.6 -4.6M1518.20 1141.8l7.0 -7.0M1522.20 1141.8l7.0 -7.0M1526.20 1141.8l7.0 -7.0M1517.90 1326.1l7.7 -7.7M1521.90 1326.1l7.7 -7.7M1525.90 1326.1l7.7 -7.7M385.90 1326.1l7.5 -7.5M389.90 1326.1l7.5 -7.5M393.90 1326.1l7.5 -7.5" stroke="#8a8a8a" stroke-width="1.05" fill="none"/></g>
<line x1="417.0" y1="1122.5" x2="435.0" y2="1122.5" stroke="#aaa" stroke-width="1.4" />
<line x1="434.5" y1="1122.5" x2="822.0" y2="1122.5" stroke="#222" stroke-width="1.6" />
<line x1="395.0" y1="1317.0" x2="822.0" y2="1317.0" stroke="#0a0a0a" stroke-width="3" />
<line x1="395.0" y1="1327.7" x2="822.0" y2="1327.7" stroke="#0a0a0a" stroke-width="3" />
<line x1="822.0" y1="757.0" x2="822.0" y2="1317.0" stroke="#0a0a0a" stroke-width="3" />
<line x1="822.0" y1="1327.7" x2="822.0" y2="1683.0" stroke="#0a0a0a" stroke-width="3" />
<line x1="832.5" y1="790.0" x2="832.5" y2="1134.5" stroke="#0a0a0a" stroke-width="3" />
<line x1="832.5" y1="757.0" x2="832.5" y2="790.0" stroke="#777" stroke-width="1.2" />
<line x1="833.2" y1="1327.7" x2="833.2" y2="1652.0" stroke="#0a0a0a" stroke-width="2.6" />
<line x1="833.2" y1="1652.0" x2="833.2" y2="1683.0" stroke="#777" stroke-width="1.2" />
<line x1="831.0" y1="1133.0" x2="913.4" y2="1133.0" stroke="#0a0a0a" stroke-width="3.2" />
<line x1="981.5" y1="1133.0" x2="1116.0" y2="1133.0" stroke="#0a0a0a" stroke-width="3.2" />
<line x1="879.0" y1="1143.0" x2="913.4" y2="1143.0" stroke="#0a0a0a" stroke-width="3" />
<line x1="982.5" y1="1143.0" x2="1017.5" y2="1143.0" stroke="#444" stroke-width="2.4" />
<line x1="879.0" y1="1141.5" x2="879.0" y2="1317.5" stroke="#0a0a0a" stroke-width="3.2" />
<line x1="1017.5" y1="1142.0" x2="1017.5" y2="1317.5" stroke="#0a0a0a" stroke-width="3.2" />
<line x1="879.0" y1="1316.0" x2="1017.5" y2="1316.0" stroke="#0a0a0a" stroke-width="3.2" />
<line x1="1072.7" y1="1133.0" x2="1072.7" y2="1327.7" stroke="#0a0a0a" stroke-width="3.4" />
<line x1="1072.7" y1="790.5" x2="1072.7" y2="1133.0" stroke="#111" stroke-width="1.5" />
<line x1="1072.7" y1="757.0" x2="1072.7" y2="790.5" stroke="#bbb" stroke-width="1.0" />
<line x1="1073.2" y1="1327.7" x2="1073.2" y2="1650.0" stroke="#111" stroke-width="1.5" />
<line x1="832.5" y1="1327.7" x2="1525.5" y2="1327.7" stroke="#0a0a0a" stroke-width="3.2" />
<line x1="1183.5" y1="1133.0" x2="1525.5" y2="1133.0" stroke="#0a0a0a" stroke-width="3.4" />
<line x1="1183.5" y1="1143.0" x2="1487.0" y2="1143.0" stroke="#0a0a0a" stroke-width="2.6" />
<line x1="1487.0" y1="1143.0" x2="1524.5" y2="1143.0" stroke="#888" stroke-width="1.6" />
<rect x="1523.3" y="1142.5" width="4.4" height="25.0" fill="#fff" />
<line x1="1524.3" y1="1142.2" x2="1524.3" y2="1168.0" stroke="#9a9a9a" stroke-width="1.8" />
<line x1="1526.8" y1="1142.2" x2="1526.8" y2="1168.0" stroke="#d8d8d8" stroke-width="1.0" />
<line x1="1184.5" y1="1131.5" x2="1184.5" y2="1144.0" stroke="#0a0a0a" stroke-width="3" />
<line x1="1072.7" y1="1316.7" x2="1487.0" y2="1316.7" stroke="#0a0a0a" stroke-width="2.8" />
<line x1="1487.0" y1="1316.5" x2="1525.5" y2="1316.5" stroke="#888" stroke-width="1.6" />
<line x1="1487.5" y1="1311.0" x2="1487.5" y2="1316.0" stroke="#222" stroke-width="1.4" />
<path d="M1122 1203.5 A 63 63 0 0 0 1179.5 1140.5" fill="none" stroke="#6a6a6a" stroke-width="1.1"/>
<rect x="1117.0" y="1141.0" width="4.4" height="63.0" fill="#fff" stroke="#222" stroke-width="1.2"/>
<rect x="1116.0" y="1133.0" width="5.3" height="6.5" fill="#fff" stroke="#222" stroke-width="1.2"/>
<rect x="1175.6" y="1133.0" width="7.5" height="6.5" fill="#fff" stroke="#333" stroke-width="1.1"/>
<rect x="1072.2" y="1142.8" width="36.0" height="36.6" fill="#fff" stroke="#0a0a0a" stroke-width="3.2"/>
<rect x="1075.2" y="1146.0" width="30.4" height="28.0" fill="url(#bx)" />
<path d="M1078.5 1173.2 L1104.3 1148 V1173.2 Z" fill="#fff" stroke="#000" stroke-width="3.2" stroke-linejoin="miter"/>
<path d="M1083 1170.6 H1103" stroke="#000" stroke-width="1.3"/>
<line x1="1104.7" y1="1161.7" x2="1114.5" y2="1153.0" stroke="#0a0a0a" stroke-width="1.8" />
<line x1="1109.6" y1="1167.0" x2="1122.0" y2="1167.0" stroke="#333" stroke-width="1.0" />
<line x1="1111.5" y1="1143.0" x2="1111.5" y2="1170.0" stroke="#444" stroke-width="1.0" />
<rect x="1080.0" y="1184.2" width="2.0" height="2.0" fill="#222" />
<path d="M869 1212H884 M916 1212H945.5 M976 1212H1008 M1000 1212H1007 M1036 1211.6H1055" stroke="#5c5c5c" stroke-width="2.6" fill="none"/>
<path d="M899.6 1212h2 M960.6 1212h1.8 M1021.4 1211h1.8" stroke="#333" stroke-width="2.4" fill="none"/>
<path d="M997.2 1207.6V1219.4" stroke="#111" stroke-width="1.8"/><path d="M992 1220.6H1002" stroke="#999" stroke-width="1"/>
<path d="M912 1208H930 M934 1208H944 M950 1208H971" stroke="#777" stroke-width="1" stroke-dasharray="2.5 1.5"/>
<path d="M851.3 1196.4L867.9 1212.0L851.3 1227.6" fill="none" stroke="#0a0a0a" stroke-width="2.3"/>
<path d="M1070.4 1196.6L1055.4 1211.6L1072 1228" fill="none" stroke="#0a0a0a" stroke-width="2.0"/>
<line x1="867.3" y1="1230.2" x2="880.5" y2="1230.2" stroke="#0a0a0a" stroke-width="4.2" />
<line x1="840.9" y1="1228.0" x2="839.7" y2="1238.0" stroke="#222" stroke-width="1.6" />
<line x1="1045.0" y1="1227.0" x2="1045.0" y2="1232.0" stroke="#222" stroke-width="1.6" />
<rect x="1524.0" y="1227.5" width="4.2" height="5.0" fill="#111" />
<line x1="1553.0" y1="1227.0" x2="1553.0" y2="1233.0" stroke="#222" stroke-width="1.6" />
<rect x="1071.5" y="1228.5" width="3.0" height="3.0" fill="#111" />
<rect x="912.2" y="1137.5" width="3.6" height="13.0" fill="#b0b0b0" />
<rect x="979.8" y="1137.5" width="3.0" height="13.0" fill="#b0b0b0" />
<path d="M911.6 1160.5V1169 M915.3 1160.5V1169" stroke="#a9a9a9" stroke-width="1.2"/>
<path d="M948.6 1137L947 1146.8H950.8Z" fill="#a9a9a9"/>
<path d="M928 1169.5L934 1165 M935.5 1163.8L941.8 1158" stroke="#999" stroke-width="1.6"/>
<path d="M957 1167L960.8 1164.6L965 1168" stroke="#a9a9a9" stroke-width="1.3" fill="none"/>
<path d="M981.8 1160.5V1173.6H973.8" stroke="#a9a9a9" stroke-width="1.8" fill="none"/>
<line x1="880.4" y1="1155.0" x2="880.4" y2="1168.0" stroke="#999" stroke-width="1.6" />
<line x1="1148.0" y1="1315.5" x2="1017.0" y2="1315.5" stroke="#999" stroke-width="0" />
<line x1="858.4" y1="758.0" x2="858.4" y2="921.0" stroke="#1c1c1c" stroke-width="1.5" />
<line x1="858.4" y1="964.7" x2="858.4" y2="1131.0" stroke="#1c1c1c" stroke-width="1.5" />
<path d="M858.4 758.5L856.4 772H860.4Z M858.4 1131.5L856.4 1118H860.4Z" fill="#1c1c1c"/>
<line x1="834.0" y1="790.5" x2="1072.0" y2="790.5" stroke="#1c1c1c" stroke-width="1.5" />
<line x1="926.0" y1="790.3" x2="978.0" y2="789.6" stroke="#0a0a0a" stroke-width="3.0" />
<path d="M834 790.5L847 788.3V792.7Z M1072 790.5L1058 788.3V792.7Z" fill="#1c1c1c"/>
<rect x="833.7" y="755.0" width="24.7" height="4.2" fill="#ececec" />
<line x1="833.7" y1="757.3" x2="858.4" y2="757.3" stroke="#777" stroke-width="1.5" />
<line x1="846.7" y1="1330.0" x2="846.7" y2="1682.0" stroke="#3a3a3a" stroke-width="1.5" />
<line x1="846.7" y1="1477.7" x2="846.7" y2="1530.0" stroke="#0a0a0a" stroke-width="3.0" />
<path d="M846.7 1330L844.7 1343H848.7Z M846.7 1682L844.5 1667.5H848.9Z" fill="#1c1c1c"/>
<path d="M834.4 1649.5L1071.5 1651.5" stroke="#1c1c1c" stroke-width="1.6"/>
<path d="M834.4 1649.5L847 1647.4V1651.9Z M1071.5 1651.5L1057.5 1649.2V1653.6Z" fill="#1c1c1c"/>
<line x1="833.5" y1="1681.5" x2="846.7" y2="1681.5" stroke="#777" stroke-width="1.2" />
<g filter="url(#gs)">
<g transform="translate(866.60,910.20) scale(1.065,1)"><text class="blk" x="0.26" y="0" font-size="29.22" stroke-width="2.2" letter-spacing="2.033">SOPPALCO</text></g>
<g transform="translate(855.60,949.70) scale(1.065,1)"><text class="blk" x="-0.85" y="0" font-size="29.22" stroke-width="2.2" letter-spacing="3.717">MEZZANINE</text></g>
<g transform="translate(505.10,1197.10) scale(1.065,1)"><text class="blk" x="0.26" y="0" font-size="29.22" stroke-width="2.2" letter-spacing="2.140">SOPPALCO</text></g>
<g transform="translate(495.50,1235.70) scale(1.065,1)"><text class="blk" x="-0.85" y="0" font-size="29.22" stroke-width="2.2" letter-spacing="3.529">MEZZANINE</text></g>
<g transform="translate(880.80,1259.90) scale(1.065,1)"><text class="blk" x="0.26" y="0" font-size="22.09" stroke-width="1.8" letter-spacing="2.598">SOFFITTA</text></g>
<g transform="translate(911.90,1290.90) scale(1.065,1)"><text class="blk" x="0.34" y="0" font-size="22.38" stroke-width="1.8" letter-spacing="3.134">ATTIC</text></g>
<g transform="translate(1246.70,1232.90) scale(1.065,1)"><text class="blk" x="0.24" y="0" font-size="22.97" stroke-width="1.8" letter-spacing="2.425">SOFFITTA</text></g>
<g transform="translate(1277.60,1264.30) scale(1.065,1)"><text class="blk" x="0.33" y="0" font-size="22.97" stroke-width="1.8" letter-spacing="2.855">ATTIC</text></g>
<g transform="translate(366.30,1948.50) scale(1.065,1)"><text class="blk" x="-2.17" y="0" font-size="69.77" stroke-width="5.0" letter-spacing="5.078">PIANTA</text></g>
<g transform="translate(703.90,1948.50) scale(1.065,1)"><text class="blk" x="-2.17" y="0" font-size="69.77" stroke-width="5.0" letter-spacing="1.843">PIANO</text></g>
<g transform="translate(985.70,1948.50) scale(1.065,1)"><text class="blk" x="0.49" y="0" font-size="69.77" stroke-width="5.0" letter-spacing="2.557">SOPPALCO</text></g>
<g transform="translate(375.40,2036.50) scale(1.065,1)"><text class="blk" x="-2.17" y="0" font-size="69.77" stroke-width="5.0" letter-spacing="6.460">MEZZANINE</text></g>
<g transform="translate(895.20,2036.50) scale(1.065,1)"><text class="blk" x="-2.17" y="0" font-size="69.77" stroke-width="5.0" letter-spacing="3.227">FLOOR</text></g>
<g transform="translate(1206.80,2036.50) scale(1.065,1)"><text class="blk" x="-2.17" y="0" font-size="69.77" stroke-width="5.0" letter-spacing="2.281">PLAN</text></g>
</g>
</svg></body></html>
